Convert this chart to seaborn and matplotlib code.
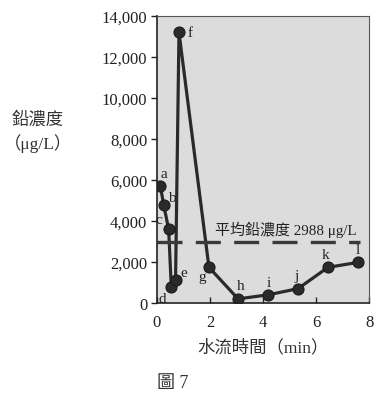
import matplotlib
matplotlib.use('Agg')
import matplotlib.pyplot as plt
import seaborn as sns
import pandas as pd
from matplotlib.ticker import FuncFormatter

# データ
labels = ['a', 'b', 'c', 'd', 'e', 'f', 'g', 'h', 'i', 'j', 'k', 'l']
minutes = [0.13, 0.25, 0.44, 0.54, 0.70, 0.83, 1.96, 3.06, 4.20, 5.32, 6.45, 7.58]
lead = [5700, 4800, 3600, 760, 1100, 13200, 1740, 200, 400, 700, 1740, 1980]
mean_lead = 2988

df = pd.DataFrame({'min': minutes, 'lead': lead, 'label': labels})

sns.set_theme(style='white')
plt.rcParams['font.family'] = ['Liberation Serif', 'Noto Sans CJK TC']
plt.rcParams['axes.unicode_minus'] = False

fig = plt.figure(figsize=(3.77, 4.02), dpi=100)
ax = fig.add_axes([0.4164, 0.2438, 0.5626, 0.7139])
ax.set_facecolor('#dcdcdc')

sns.lineplot(data=df, x='min', y='lead', sort=False, marker='o', color='#2a2a2a',
             linewidth=2.3, markersize=8, markeredgecolor='#1a1a1a', ax=ax)

ax.axhline(mean_lead, xmin=0, xmax=7.65 / 8, color='#3a3a3a', linewidth=2.4,
           dashes=(7.5, 4))
ax.text(2.2, mean_lead + 220, f'平均鉛濃度 {mean_lead} μg/L', fontsize=10.8,
        color='#222222', ha='left', va='bottom')

# 点ラベル（オフセットはポイント単位）
offsets = {'a': (2.5, 9), 'b': (6, 5), 'c': (-7, 7), 'd': (-6.5, -8),
           'e': (6, 6), 'f': (8, 0), 'g': (-5, -6.5), 'h': (2, 9.5),
           'i': (0, 9), 'j': (-1, 9.5), 'k': (-2, 9), 'l': (0, 9)}
for lab, x, y in zip(labels, minutes, lead):
    ax.annotate(lab, (x, y), xytext=offsets[lab], textcoords='offset points',
                fontsize=11, ha='center', va='center', color='#222222')

ax.set_xlim(0, 8)
ax.set_ylim(0, 14000)
ax.set_xticks([0, 2, 4, 6, 8])
ax.set_yticks(range(0, 14001, 2000))
ax.yaxis.set_major_formatter(FuncFormatter(lambda v, p: f'{int(v):,}'))
ax.tick_params(axis='y', direction='out', length=4, width=1, labelsize=12,
               colors='#222222', left=True, pad=3)
ax.tick_params(axis='x', direction='in', length=4, width=1, labelsize=12,
               colors='#222222', bottom=True, pad=8)
ax.set_xlabel('')
ax.set_ylabel('')
for side in ['left', 'bottom']:
    ax.spines[side].set_color('#222222')
    ax.spines[side].set_linewidth(1.2)
for side in ['top', 'right']:
    ax.spines[side].set_color('#555555')
    ax.spines[side].set_linewidth(0.8)

fig.text(0.1, 0.70, '鉛濃度', fontsize=12.5, ha='center', va='center', color='#333333')
fig.text(0.1, 0.643, '（μg/L）', fontsize=12.5, ha='center', va='center', color='#333333')
fig.text(0.697, 0.134, '水流時間（min）', fontsize=12.5, ha='center', va='center', color='#333333')
fig.text(0.416, 0.047, '圖 7', fontsize=13, ha='left', va='center', color='#333333')

plt.savefig('out.png', dpi=100)
plt.close()
